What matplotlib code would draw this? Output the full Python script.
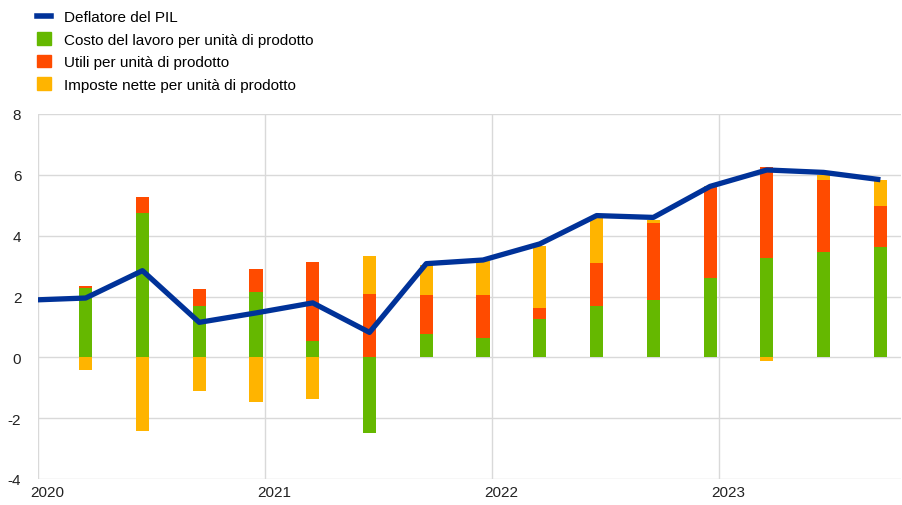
import numpy as np
import matplotlib
matplotlib.use('Agg')
import matplotlib.pyplot as plt
import matplotlib.transforms as mtransforms
from matplotlib.patches import Patch
from matplotlib.lines import Line2D

plt.rcParams['font.family'] = ['Liberation Sans', 'DejaVu Sans']
plt.rcParams['axes.unicode_minus'] = False

# quarterly contributions, 2020 Q1 - 2023 Q3
labour = [2.27, 4.73, 1.70, 2.14, 0.53, -2.50, 0.76, 0.62, 1.25, 1.68, 1.87, 2.62, 3.28, 3.47, 3.64]
profits = [0.08, 0.54, 0.54, 0.75, 2.61, 2.08, 1.29, 1.43, 0.37, 1.43, 2.56, 2.97, 2.98, 2.37, 1.35]
taxes = [-0.41, -2.41, -1.12, -1.48, -1.37, 1.24, 1.00, 1.11, 2.05, 1.49, 0.09, 0.03, -0.11, 0.16, 0.84]
# deflator, starting one quarter earlier (2019 Q4)
deflator = [1.88, 1.95, 2.85, 1.15, 1.46, 1.79, 0.82, 3.08, 3.20, 3.73, 4.66, 4.60, 5.62, 6.16, 6.08, 5.84]
years = [2020, 2021, 2022, 2023]
labels = ['Deflatore del PIL', 'Costo del lavoro per unità di prodotto',
          'Utili per unità di prodotto', 'Imposte nette per unità di prodotto']

c_line = '#003299'
c_green = '#65b800'
c_red = '#ff4b00'
c_yellow = '#ffb400'

n = len(labour)
xb = 2020.21 + 0.25 * np.arange(n)
xl = 2020.21 + 0.25 * np.arange(-1, n)

fig = plt.figure(figsize=(9.02, 5.06), dpi=100)
ax = fig.add_axes([38 / 902, 1 - 480 / 506, 1 - 38 / 902 - 0.001, (480 - 115) / 506])

pos_base = np.zeros(n)
neg_base = np.zeros(n)
w = 0.058
for vals, col in [(labour, c_green), (profits, c_red), (taxes, c_yellow)]:
    v = np.array(vals)
    base = np.where(v >= 0, pos_base, neg_base)
    ax.bar(xb, v, w, bottom=base, color=col, edgecolor='none', zorder=2)
    pos_base = pos_base + np.where(v >= 0, v, 0)
    neg_base = neg_base + np.where(v < 0, v, 0)

ax.plot(xl, deflator, color=c_line, lw=3.8, zorder=3, solid_capstyle='butt')

ax.set_xlim(2020, 2020 + (902 - 38) / 227.3)
ax.set_ylim(-4, 8)
ax.set_yticks(np.arange(-4, 9, 2))
ax.set_xticks(years)
ax.set_xticklabels([str(y) for y in years])
ax.grid(True, color='#d9d9d9', lw=1, zorder=0)
for s in ax.spines.values():
    s.set_visible(False)
ax.tick_params(length=0, labelsize=11, colors='#222222')
ax.tick_params(axis='y', pad=12)
ax.tick_params(axis='x', pad=4)
off = mtransforms.ScaledTranslation(9 / 100, 0, fig.dpi_scale_trans)
for t in ax.get_xticklabels():
    t.set_transform(t.get_transform() + off)

handles = [Line2D([0], [0], color=c_line, lw=4),
           Patch(color=c_green), Patch(color=c_red), Patch(color=c_yellow)]
fig.legend(handles, labels, loc='upper left', bbox_to_anchor=(0.029, 1.0),
           frameon=False, fontsize=11, handlelength=0.9, handleheight=0.9,
           handletextpad=0.85, labelspacing=0.52, borderaxespad=0.3)

fig.savefig('out.png', dpi=100)
